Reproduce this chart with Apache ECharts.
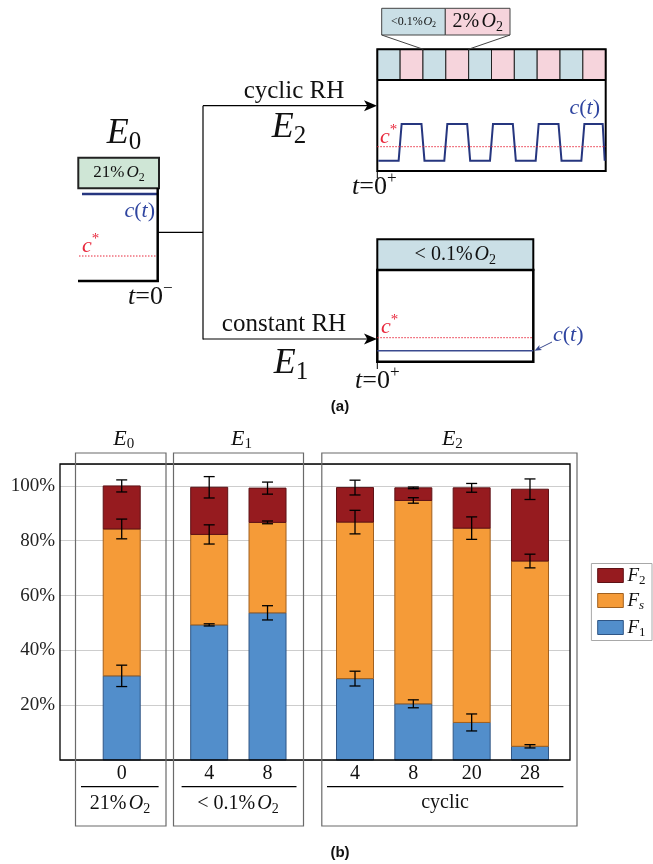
<!DOCTYPE html>
<html>
<head>
<meta charset="utf-8">
<script src="https://cdn.jsdelivr.net/npm/echarts@6/dist/echarts.min.js"></script>
<style>
html,body{margin:0;padding:0;background:#fff;}
#chart{width:653px;height:864px;}
</style>
</head>
<body>
<div id="chart"></div>
<script>
// ---- data ----
const hours = ['0', '4', '8', '4', '8', '20', '28'];
const xPos = [0, 1.5, 2.5, 4, 5, 6, 7];
const f1 = [30.7, 49.3, 53.7, 29.7, 20.5, 13.7, 5.0];
const fs = [53.6, 33.0, 33.0, 57.1, 74.2, 70.9, 67.6];
const f2 = [15.7, 17.2, 12.5, 12.6, 4.6, 14.7, 26.2];
const errF1 = [3.9, 0.4, 2.6, 2.7, 1.45, 3.1, 0.6];
const errFs = [3.6, 3.5, 0.5, 4.3, 1.0, 4.1, 2.5];
const errF2 = [2.2, 3.9, 2.2, 2.7, 0.3, 1.6, 3.75];
const yTicks = [20, 40, 60, 80, 100];

// ---- styles ----
const SERIF = '"Liberation Serif", "DejaVu Serif", serif';
const SANS = '"Liberation Sans", Arial, sans-serif';
const C_F2 = '#961b1f', C_F2b = '#5e1216';
const C_FS = '#f59b38', C_FSb = '#a0601f';
const C_F1 = '#528ecb', C_F1b = '#2f5585';
const BLUE_TXT = '#2f45a0';
const WAVE = '#26367f';
const RED = '#e8283c';
const CELL_BLUE = '#cadfe6', CELL_PINK = '#f6d4dc', CELL_GREEN = '#cfe6d6';

const GRID = { left: 60, top: 464, width: 510, height: 296 };
const BAR_W = 37;

// cumulative levels of the stacked fractions
const cum1 = f1.slice();
const cum2 = f1.map((v, i) => v + fs[i]);
const cum3 = cum2.map((v, i) => v + f2[i]);

const chart = echarts.init(document.getElementById('chart'), null, { renderer: 'canvas' });

// text measuring for composed math-like labels
const mctx = document.createElement('canvas').getContext('2d');
function fontStr(size, italic, weight) {
  return (italic ? 'italic ' : '') + (weight ? weight + ' ' : '') + size + 'px ' + SERIF;
}
function mw(t, size, italic) { mctx.font = fontStr(size, italic); return mctx.measureText(t).width; }
// parts: [text, size, italic, dy]
function math(parts, x, y, align, color) {
  const ws = parts.map(p => mw(p[0], p[1], p[2]));
  const total = ws.reduce((a, b) => a + b, 0);
  let cx = align === 'center' ? x - total / 2 : align === 'right' ? x - total : x;
  return parts.map((p, i) => {
    const el = {
      type: 'text', z: 20, x: cx, y: y + (p[3] || 0), silent: true,
      style: { text: p[0], font: fontStr(p[1], p[2]), fill: color || '#111',
        align: 'left', textAlign: 'left', verticalAlign: 'middle', textVerticalAlign: 'middle' }
    };
    cx += ws[i];
    return el;
  });
}
function line(x1, y1, x2, y2, color, w, dash) {
  return { type: 'line', z: 15, silent: true, shape: { x1, y1, x2, y2 },
    style: { stroke: color || '#000', lineWidth: w || 1, lineDash: dash || null } };
}
function rect(x, y, w, h, fill, stroke, lw) {
  return { type: 'rect', z: 12, silent: true, shape: { x, y, width: w, height: h },
    style: { fill: fill || 'none', stroke: stroke || null, lineWidth: lw || 0 } };
}
function arrowHead(tx, ty, dir, len, half, color) {
  const [dx, dy] = dir;
  const px = -dy, py = dx;
  const bx = tx - dx * len, by = ty - dy * len;
  const ix = tx - dx * len * 0.75, iy = ty - dy * len * 0.75;
  return { type: 'polygon', z: 16, silent: true,
    shape: { points: [[tx, ty], [bx + px * half, by + py * half], [ix, iy], [bx - px * half, by - py * half]] },
    style: { fill: color || '#000' } };
}
const cT = (size) => [['c', size, true], ['(', size], ['t', size, true], [')', size]];
const cStar = (size) => [['c', size, true], ['*', size * 0.68, false, -size * 0.3]];
const tZero = (size, sign) => [['t', size, true], ['=', size], ['0', size], [sign, size * 0.66, false, -size * 0.33]];
const O2 = (size, pre) => [[pre, size], [' ', size * 0.45], ['O', size, true], ['2', size * 0.7, false, size * 0.28]];

// ---- schematic (a) ----
function schematic() {
  const g = [];
  // E0 state
  g.push(...math([['E', 36, true], ['0', 25, false, 8]], 124, 134, 'center'));
  g.push(rect(78.3, 157.7, 80.7, 30.6, CELL_GREEN, '#222', 2));
  g.push(...math(O2(17, '21%'), 119, 173, 'center'));
  g.push(line(82, 194, 157.7, 194, WAVE, 2.5));
  g.push(...math(cT(22), 155, 211, 'right', BLUE_TXT));
  g.push(line(79, 256, 157, 256, RED, 1, [1.5, 1.5]));
  g.push(...math(cStar(22), 82, 246, 'left', RED));
  g.push(line(157.7, 188, 157.7, 282, '#000', 2.5));
  g.push(line(78, 281, 158.9, 281, '#000', 2.5));
  g.push(...math(tZero(26, '\u2212'), 128, 297, 'left'));

  // branches
  g.push(line(157.7, 232.3, 203, 232.3, '#000', 1.2));
  g.push(line(203, 105.7, 203, 339.5, '#000', 1.2));
  g.push(line(203, 105.7, 368, 105.7, '#000', 1.2));
  g.push(arrowHead(377, 105.7, [1, 0], 13, 5.5));
  g.push(line(203, 339, 368, 339, '#000', 1.2));
  g.push(arrowHead(377, 339, [1, 0], 13, 5.5));
  g.push(...math([['cyclic RH', 25]], 294, 91, 'center'));
  g.push(...math([['E', 36, true], ['2', 25, false, 8]], 289, 128, 'center'));
  g.push(...math([['constant RH', 25]], 284, 324, 'center'));
  g.push(...math([['E', 36, true], ['1', 25, false, 8]], 291, 364, 'center'));

  // E2: cyclic box
  const bx = 377.3, bw = 228.4, stripTop = 49.3, stripBot = 80, boxBot = 171;
  g.push(rect(381.7, 8.3, 63.6, 26.7, CELL_BLUE, '#444', 1));
  g.push(rect(445.3, 8.3, 64.7, 26.7, CELL_PINK, '#444', 1));
  g.push(...math([['<0.1%', 12], [' ', 3], ['O', 12, true], ['2', 8, false, 3]], 413.5, 21.7, 'center'));
  g.push(...math(O2(20, '2%'), 477.7, 21.7, 'center'));
  g.push(line(381.7, 35, 423.3, 49.3, '#444', 1));
  g.push(line(510, 35, 468.3, 49.3, '#444', 1));
  const nCells = 10, cw = bw / nCells;
  for (let i = 0; i < nCells; i++) {
    g.push(rect(bx + i * cw, stripTop, cw, stripBot - stripTop, i % 2 ? CELL_PINK : CELL_BLUE, '#222', 1));
  }
  // square wave: high while the 2% O2 cells are active
  const lo = 160.7, hi = 124;
  const pts = [[bx + 1, lo]];
  for (let i = 1; i < nCells; i += 2) {
    const a = bx + i * cw, b = a + cw;
    pts.push([a - 1.5, lo], [a + 1.5, hi]);
    if (i === nCells - 1) { pts.push([b - 3, hi], [b - 1, lo]); }
    else { pts.push([b - 1.5, hi], [b + 1.5, lo]); }
  }
  g.push({ type: 'polyline', z: 14, silent: true, shape: { points: pts }, style: { stroke: WAVE, lineWidth: 2, fill: null } });
  g.push(line(bx, 146.7, bx + bw, 146.7, RED, 1, [1.5, 1.5]));
  g.push(rect(bx, stripTop, bw, boxBot - stripTop, null, '#000', 2));
  g.push(line(bx, stripBot, bx + bw, stripBot, '#000', 2));
  g.push(...math(cT(22), 600, 108, 'right', BLUE_TXT));
  g.push(...math(cStar(22), 380, 137, 'left', RED));
  g.push(line(bx, boxBot, bx, 178, '#000', 1));
  g.push(...math(tZero(26, '+'), 352, 187, 'left'));

  // E1: constant box
  const ex = 377.3, ew = 156;
  g.push(rect(ex, 239.3, ew, 30.7, CELL_BLUE, '#000', 2));
  g.push(...math([['<', 20], [' 0.1%', 20], [' ', 8], ['O', 20, true], ['2', 14, false, 5.5]], 455.3, 255, 'center'));
  g.push(line(ex, 337.7, ex + ew, 337.7, RED, 1, [1.5, 1.5]));
  g.push(line(ex, 350.7, ex + ew, 350.7, '#3a4a8f', 1.6));
  g.push(rect(ex, 270, ew, 91.7, null, '#000', 2.5));
  g.push(...math(cStar(22), 381, 327, 'left', RED));
  g.push(...math(cT(22), 553, 335, 'left', BLUE_TXT));
  g.push(line(552, 342, 539, 348.5, '#3a4a8f', 1));
  g.push(arrowHead(534.5, 350.7, [-0.894, 0.447], 7, 2.8, '#3a4a8f'));
  g.push(line(ex, 361.7, ex, 369, '#000', 1));
  g.push(...math(tZero(26, '+'), 355, 381, 'left'));

  g.push({ type: 'text', z: 20, x: 340, y: 407, silent: true,
    style: { text: '(a)', font: 'bold 15px ' + SANS, fill: '#111', align: 'center', textAlign: 'center', verticalAlign: 'middle', textVerticalAlign: 'middle' } });
  return g;
}

// ---- stacked segments: each item is [x, base, top] ----
function stackSeries(name, bases, tops, color, border) {
  return {
    type: 'custom', name: name, z: 3, silent: true,
    encode: { x: 0, y: [1, 2] },
    data: xPos.map((x, i) => [x, bases[i], tops[i]]),
    renderItem(params, api) {
      const x = api.value(0);
      const p0 = api.coord([x, api.value(1)]);
      const p1 = api.coord([x, api.value(2)]);
      return {
        type: 'rect',
        shape: { x: p0[0] - BAR_W / 2, y: p1[1], width: BAR_W, height: p0[1] - p1[1] },
        style: { fill: color, stroke: border, lineWidth: 1 }
      };
    }
  };
}

// ---- error bars: item is [x, level, halfRange] ----
function errSeries(name, tops, errs) {
  return {
    type: 'custom', name: name, z: 6, silent: true,
    encode: { x: 0, y: 1 },
    data: xPos.map((x, i) => [x, tops[i], errs[i]]),
    renderItem(params, api) {
      const x = api.value(0), t = api.value(1), e = api.value(2);
      const p1 = api.coord([x, t + e]), p2 = api.coord([x, t - e]);
      const hw = 5.5, st = { stroke: '#000', lineWidth: 1.3 };
      return { type: 'group', children: [
        { type: 'line', shape: { x1: p1[0], y1: p1[1], x2: p2[0], y2: p2[1] }, style: st },
        { type: 'line', shape: { x1: p1[0] - hw, y1: p1[1], x2: p1[0] + hw, y2: p1[1] }, style: st },
        { type: 'line', shape: { x1: p2[0] - hw, y1: p2[1], x2: p2[0] + hw, y2: p2[1] }, style: st }
      ] };
    }
  };
}

const zeros = xPos.map(() => 0);

chart.setOption({
  animation: false,
  backgroundColor: '#fff',
  grid: { left: GRID.left, top: GRID.top, width: GRID.width, height: GRID.height, containLabel: false },
  xAxis: {
    type: 'value', min: -1.058, max: 7.686,
    axisLine: { show: false }, axisTick: { show: false }, axisLabel: { show: false }, splitLine: { show: false }
  },
  yAxis: {
    type: 'value', min: 0, max: 108, interval: 20,
    axisLine: { show: false }, axisTick: { show: false },
    splitLine: { show: true, lineStyle: { color: '#cdcdcd', width: 1 } },
    axisLabel: {
      formatter: v => (yTicks.indexOf(v) >= 0 ? v + '%' : ''),
      fontFamily: SERIF, fontSize: 19, color: '#222', margin: 5
    }
  },
  series: [
    stackSeries('F1', zeros, cum1, C_F1, C_F1b),
    stackSeries('Fs', cum1, cum2, C_FS, C_FSb),
    stackSeries('F2', cum2, cum3, C_F2, C_F2b),
    errSeries('errF1', cum1, errF1),
    errSeries('errFs', cum2, errFs),
    errSeries('errF2', cum3, errF2)
  ]
});

// ---- annotations of (b) ----
function panelB() {
  const g = [];
  const px = xPos.map(x => chart.convertToPixel({ gridIndex: 0 }, [x, 0])[0]);
  // frame
  g.push(rect(GRID.left, GRID.top, GRID.width, GRID.height, null, '#000', 1.3));
  // group boxes
  const boxes = [
    { x0: 75.5, x1: 166, sub: '0' },
    { x0: 173.5, x1: 303.5, sub: '1' },
    { x0: 321.8, x1: 577, sub: '2' }
  ];
  boxes.forEach(b => {
    const r = rect(b.x0, 453, b.x1 - b.x0, 826 - 453, null, '#6a6a6a', 1.2);
    r.z = 13;
    g.push(r);
    g.push(...math([['E', 22, true], [b.sub, 15, false, 5]], (b.x0 + b.x1) / 2 + 3, 439, 'center'));
  });
  // x category labels
  hours.forEach((h, i) => g.push(...math([[h, 20]], px[i], 774, 'center')));
  // condition labels with rules
  g.push(line(81, 786.6, 158.6, 786.6, '#000', 1.2));
  g.push(line(181.6, 786.6, 296.5, 786.6, '#000', 1.2));
  g.push(line(327, 786.6, 563.4, 786.6, '#000', 1.2));
  g.push(...math(O2(20, '21%'), 120, 804, 'center'));
  g.push(...math([['<', 20], [' 0.1%', 20], [' ', 8], ['O', 20, true], ['2', 14, false, 5.5]], 238, 804, 'center'));
  g.push(...math([['cyclic', 20]], 445, 803, 'center'));
  // legend
  g.push(rect(591.4, 563.5, 60.6, 77, '#fff', '#a8a8a8', 1));
  const leg = [['2', C_F2, C_F2b, 575.5, false], ['s', C_FS, C_FSb, 600.5, true], ['1', C_F1, C_F1b, 627.5, false]];
  leg.forEach(l => {
    g.push(rect(597.7, l[3] - 7, 25.6, 14, l[1], l[2], 1));
    g.push(...math([['F', 19, true], [l[0], 13, l[4], 5]], 627.5, l[3], 'left'));
  });
  g.push({ type: 'text', z: 20, x: 340, y: 853, silent: true,
    style: { text: '(b)', font: 'bold 15px ' + SANS, fill: '#111', align: 'center', textAlign: 'center', verticalAlign: 'middle', textVerticalAlign: 'middle' } });
  return g;
}

chart.setOption({ graphic: { elements: schematic().concat(panelB()) } });
</script>
</body>
</html>
